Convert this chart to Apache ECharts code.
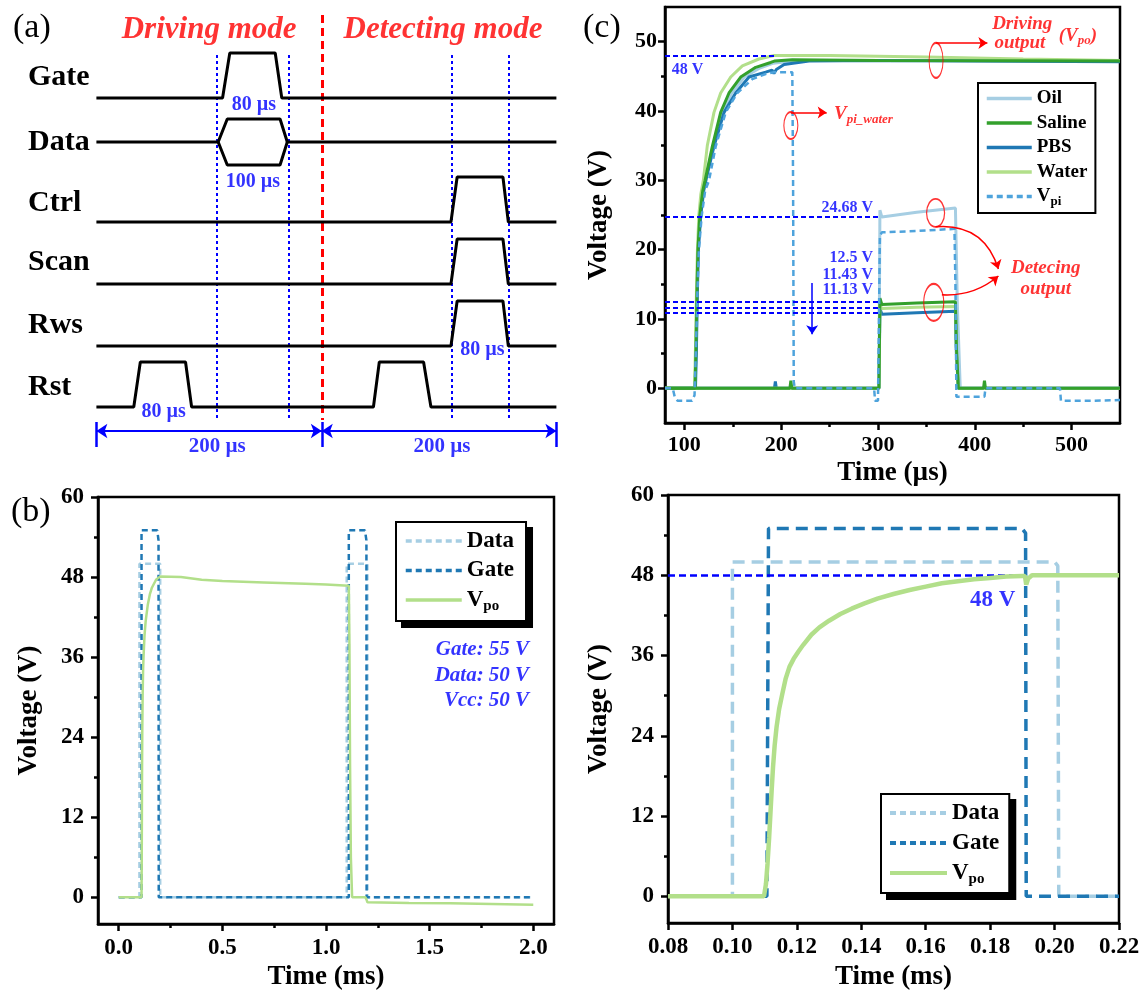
<!DOCTYPE html>
<html><head><meta charset="utf-8">
<script src="https://cdn.jsdelivr.net/npm/echarts@6/dist/echarts.min.js"></script>
<style>html,body{margin:0;padding:0;background:#fff}#c{width:1146px;height:992px}</style>
</head><body><div id="c"></div>
<script>
// ================= DATA =================
// ---- Panel (a): timing diagram (times in µs) ----
const aSignals = ['Gate', 'Data', 'Ctrl', 'Scan', 'Rws', 'Rst'];
const aSpan = [0, 400];
const aModeBoundary = 196;
const aGatePulses = [[109.7, 116.0, 155.5, 161.2]];
const aDataWindows = [[105.9, 113.8, 159.7, 166.0]];
const aCtrlPulses = [[308.3, 313.7, 353.5, 358.2]];
const aScanPulses = [[308.3, 313.7, 353.5, 358.2]];
const aRwsPulses = [[308.3, 313.7, 353.5, 358.2]];
const aRstPulses = [[32.5, 38.2, 77.5, 82.8], [240.9, 246.0, 284.5, 290.9]];
const aGuideTimes = [105.0, 167.6, 309.0, 358.2];
const aWidthLabels = ['80 µs', '100 µs', '80 µs', '80 µs'];
const aPeriodLabels = ['200 µs', '200 µs'];
const aModes = ['Driving mode', 'Detecting mode'];

// ---- Panel (b): full period (ms, V) ----
const bLegend = ['Data', 'Gate', 'Vpo'];
const bXTicks = [0, 0.5, 1.0, 1.5, 2.0];
const bXMinor = [0.25, 0.75, 1.25, 1.75];
const bYTicks = [0, 12, 24, 36, 48, 60];
const bYMinor = [6, 18, 30, 42, 54];
const bData = [[0,0],[0.1,0],[0.1,50],[0.2,50],[0.2,0],[1.1,0],[1.1,50],[1.2,50],[1.2,0],[2.0,0]];
const bGate = [[0,0],[0.11,0],[0.11,55],[0.186,55],[0.192,53.5],[0.193,0],[1.11,0],[1.11,55],[1.188,55],[1.195,53.5],[1.196,0],[2.0,0]];
const bVpo = [[0,0],[0.11,0],[0.1109,4.9],[0.1118,12.4],[0.1126,19.3],[0.1137,25.3],[0.1155,30.3],[0.1177,34.3],[0.12,36.3],[0.1245,39.3],[0.13,41.4],[0.14,43.8],[0.15,45.4],[0.16,46.4],[0.18,47.6],[0.2,48.1],[0.3,48.0],[0.4,47.6],[0.5,47.4],[0.7,47.2],[0.9,47.0],[1.0,46.9],[1.11,46.7],[1.113,38],[1.116,20],[1.12,6],[1.126,0],[1.19,0],[1.195,-0.3],[1.2,-0.75],[1.4,-0.85],[1.6,-0.9],[1.8,-1.0],[2.0,-1.1]];
const bNotes = ['Gate: 55 V', 'Data: 50 V', 'Vcc: 50 V'];

// ---- Panel (c): media comparison (µs, V) ----
const cLegend = ['Oil', 'Saline', 'PBS', 'Water', 'Vpi'];
const cXTicks = [100, 200, 300, 400, 500];
const cXMinor = [150, 250, 350, 450];
const cYTicks = [0, 10, 20, 30, 40, 50];
const cYMinor = [5, 15, 25, 35, 45];
const cOilDrive = [[80,0],[111.2,0],[112.2,6],[113.2,14],[114.2,20],[116.5,25],[119.5,28.5],[122,30],[129.5,34.9],[139,39.8],[149,42.6],[162,44.9],[178,46.2],[192,46.9],[215,47.3],[300,47.3],[550,47.2]];
const cSalineDrive = [[80,0],[111,0],[112,6],[113,14],[114,20],[116,25],[119,28.5],[121.4,30],[128.9,34.9],[137.5,39.8],[146.1,42.6],[158.2,44.9],[173.7,46.3],[189.2,47.0],[191,46.8],[193,47.2],[211.5,47.4],[300,47.3],[550,47.2]];
const cPbsDrive = [[80,0],[111.5,0],[112.5,6],[113.5,14],[114.5,20],[117,25],[120,28.5],[123,30.5],[130.6,34.9],[141,39.8],[153,42.6],[166.8,44.9],[184,45.6],[190.5,45.9],[192.5,45.4],[195,46],[203,46.7],[228.8,47.2],[300,47.3],[550,47.1]];
const cWaterDrive = [[80,0],[110.5,0],[111.5,6],[112.5,14],[113.5,20],[115,25],[117,28],[119.6,30],[123.7,35],[130.6,39.8],[137.5,42.6],[147.9,44.9],[159.9,46.5],[177,47.5],[192.6,48],[250,48],[350,47.8],[450,47.5],[550,47.3]];
const cOilDetect = [[80,0],[301,0],[302,25.7],[304,24.7],[340,25.4],[380,26],[382,12],[385,0],[550,0]];
const cSalineDetect = [[80,0],[209,0],[210,1.1],[211,0],[301,0],[302,13],[304,12.1],[340,12.3],[380,12.5],[381,6],[383,0],[409,0],[410,1.1],[411,0],[550,0]];
const cPbsDetect = [[80,0],[193,0],[194,1],[195,0],[301,0],[302,11.5],[304,10.7],[340,10.9],[380,11.1],[381,5],[383,0],[550,0]];
const cWaterDetect = [[80,0],[301,0],[302,12],[304,11.5],[340,11.7],[380,11.8],[381,6],[383,0],[550,0]];
const cVpi = [[80,0],[88,0],[90,-1.2],[93,-1.8],[108,-1.8],[110.5,-1],[112,6],[113.5,14],[115,20],[118,25],[121.5,28.5],[125.5,30],[132.4,34.9],[142.7,39.8],[154.7,42.6],[170.2,44.6],[185,45.4],[192.6,45.6],[211.5,45.6],[212.3,30],[213,1],[214,0],[296,0],[297,-1.8],[300,-1.8],[301,10],[302,22],[304,22.5],[340,22.7],[379,23],[380,15],[381,-1.2],[410,-1.2],[411,0],[488,0],[489,-1.8],[520,-1.8],[550,-1.7]];
const cRefLevels = [48, 24.68, 12.43, 11.6, 10.84];
const cRefEnds = [193, 302, 301, 301, 301];
const cRefLabels = ['48 V', '24.68 V', '12.5 V', '11.43 V', '11.13 V'];

// ---- Panel (d): zoom on driving pulse (ms, V) ----
const dXTicks = [0.08, 0.10, 0.12, 0.14, 0.16, 0.18, 0.20, 0.22];
const dYTicks = [0, 12, 24, 36, 48, 60];
const dYMinor = [6, 18, 30, 42, 54];
const dData = [[0.08,0],[0.1,0],[0.1,50],[0.2,50],[0.201,49.4],[0.2013,0],[0.22,0]];
const dGate = [[0.08,0],[0.1107,0],[0.1112,55],[0.1899,55],[0.191,54.3],[0.1912,0],[0.22,0]];
const dVpo = [[0.08,0],[0.1098,0],[0.1104,1.8],[0.1109,4.9],[0.1114,8.8],[0.1118,12.4],[0.1122,16.0],[0.1126,19.3],[0.1131,22.5],[0.1137,25.3],[0.1145,28.0],[0.1155,30.3],[0.1165,32.5],[0.1177,34.3],[0.119,35.5],[0.1205,36.6],[0.122,37.6],[0.1245,39.1],[0.127,40.2],[0.13,41.2],[0.1335,42.2],[0.137,43.0],[0.141,43.8],[0.145,44.5],[0.15,45.2],[0.155,45.8],[0.16,46.3],[0.165,46.8],[0.17,47.1],[0.175,47.4],[0.18,47.6],[0.185,47.8],[0.19,47.9],[0.1908,47.9],[0.1912,46.6],[0.1918,47.5],[0.193,48],[0.22,48]];
const dRefLevel = 48;
const dRefEnd = 0.191;
const dRefLabel = '48 V';

// ================= BUILD =================
const FONT = '"Liberation Serif","Times New Roman",Times,serif';
const BLUE = '#0000ff', RED = '#ff0000';
const cLightBlue = '#a6cee3', cDarkBlue = '#1f78b4', cLightGreen = '#b2df8a', cGreen = '#33a02c', cVpiBlue = '#4ea3dc';

function axisPair(dim, gi, min, max, major, minor, fmt, name, nameGap, margin, fs) {
  const pos = dim === 'x' ? 'bottom' : 'left';
  const main = {
    type: 'value', gridIndex: gi, min: min, max: max, position: pos,
    name: name, nameLocation: 'middle', nameGap: nameGap,
    nameTextStyle: { fontFamily: FONT, fontWeight: 'bold', fontSize: 27, color: '#000' },
    axisLine: { show: true, onZero: false, lineStyle: { color: '#000', width: 2.5 } },
    axisTick: { show: true, inside: false, length: 7, customValues: major, lineStyle: { color: '#000', width: 2.5 } },
    axisLabel: { show: true, customValues: major, margin: margin, formatter: fmt || (v => String(v)),
      fontFamily: FONT, fontWeight: 'bold', fontSize: fs, color: '#000' },
    splitLine: { show: false }
  };
  const mn = {
    type: 'value', gridIndex: gi, min: min, max: max, position: pos,
    axisLine: { show: false, onZero: false },
    axisTick: { show: minor.length > 0, inside: false, length: 4, customValues: minor, lineStyle: { color: '#000', width: 2.5 } },
    axisLabel: { show: false }, splitLine: { show: false }
  };
  return [main, mn];
}

function line(name, ax, data, color, width, type, z) {
  return { type: 'line', name: name, xAxisIndex: ax[0], yAxisIndex: ax[1], data: data,
    symbol: 'none', showSymbol: false, silent: true, animation: false, z: z || 2,
    lineStyle: { color: color, width: width, type: type || 'solid' }, itemStyle: { color: color } };
}
function segs(ax, list, color, width, type, symbols, symbolSize, curveness, z) {
  return { type: 'lines', coordinateSystem: 'cartesian2d', xAxisIndex: ax[0], yAxisIndex: ax[1],
    data: list.map(c => ({ coords: c })), symbol: symbols || ['none', 'none'], symbolSize: symbolSize || 10,
    lineStyle: { color: color, width: width, type: type || 'solid', curveness: curveness || 0, opacity: 1 },
    silent: true, animation: false, z: z || 3 };
}
function texts(ax, items, label) {
  return { type: 'scatter', xAxisIndex: ax[0], yAxisIndex: ax[1], symbolSize: 1, clip: false,
    itemStyle: { color: 'rgba(0,0,0,0)' }, silent: true, animation: false, z: 10,
    data: items.map(it => ({ value: it.v, text: it.t, label: it.l || {} })),
    label: Object.assign({ show: true, position: 'inside', formatter: p => p.data.text }, label) };
}
function ellipses(ax, items) {
  return { type: 'scatter', xAxisIndex: ax[0], yAxisIndex: ax[1], symbol: 'circle', silent: true, animation: false, z: 9,
    data: items.map(it => ({ value: it.v, symbolSize: it.s })),
    itemStyle: { color: 'rgba(0,0,0,0)', borderColor: RED, borderWidth: 1.5 } };
}

const A = [0, 0], C = [1, 1], B = [3, 3], D = [5, 5];
const series = [];

// ---- (a) ----
const rowBase = { Gate: 98, Data: 142, Ctrl: 222, Scan: 284, Rws: 346, Rst: 407 };
const pulseAmp = 45, dataHalf = 23;
function train(pulses, base, amp) {
  const pts = [[aSpan[0], base]];
  pulses.forEach(p => { pts.push([p[0], base], [p[1], base - amp], [p[2], base - amp], [p[3], base]); });
  pts.push([aSpan[1], base]);
  return pts;
}
series.push(segs(A, aGuideTimes.map(t => [[t, 55], [t, 420]]), BLUE, 2, [3, 3], null, null, 0, 1));
series.push(segs(A, [[[aModeBoundary, 15], [aModeBoundary, 420]]], RED, 3, [8, 5], null, null, 0, 1));
series.push(line('', A, train(aGatePulses, rowBase.Gate, pulseAmp), '#000', 3));
series.push(line('', A, train(aDataWindows, rowBase.Data, dataHalf), '#000', 3));
aDataWindows.forEach(p => series.push(line('', A, [[p[0], rowBase.Data], [p[1], rowBase.Data + dataHalf], [p[2], rowBase.Data + dataHalf], [p[3], rowBase.Data]], '#000', 3)));
series.push(line('', A, train(aCtrlPulses, rowBase.Ctrl, pulseAmp), '#000', 3));
series.push(line('', A, train(aScanPulses, rowBase.Scan, pulseAmp), '#000', 3));
series.push(line('', A, train(aRwsPulses, rowBase.Rws, pulseAmp), '#000', 3));
series.push(line('', A, train(aRstPulses, rowBase.Rst, pulseAmp), '#000', 3));
series.push(segs(A, [[[aSpan[0], 431], [aModeBoundary, 431]], [[aModeBoundary, 431], [aSpan[1], 431]]], BLUE, 2, 'solid', ['arrow', 'arrow'], 11, 0, 4));
series.push(segs(A, [aSpan[0], aModeBoundary, aSpan[1]].map(t => [[t, 422], [t, 447]]), BLUE, 2.5, 'solid', null, null, 0, 4));
const blueLbl = { color: BLUE, fontFamily: FONT, fontWeight: 'bold', fontSize: 20 };
series.push(texts(A, [
  { v: [137, 105], t: aWidthLabels[0] }, { v: [136, 182], t: aWidthLabels[1] },
  { v: [335.7, 350], t: aWidthLabels[2] }, { v: [58.4, 412], t: aWidthLabels[3] },
  { v: [105, 447], t: aPeriodLabels[0], l: { fontSize: 21 } }, { v: [300.5, 447], t: aPeriodLabels[1], l: { fontSize: 21 } }
], blueLbl));
series.push(texts(A, [{ v: [98, 30], t: aModes[0] }, { v: [301.4, 30], t: aModes[1] }],
  { color: RED, fontFamily: FONT, fontWeight: 'bold', fontStyle: 'italic', fontSize: 31 }));

// ---- (b) ----
series.push(line('Data', B, bData, cLightBlue, 2.5, [6, 4]));
series.push(line('Gate', B, bGate, cDarkBlue, 2.5, [6, 4]));
series.push(line('Vpo', B, bVpo, cLightGreen, 2.5));
series.push(texts(B, bNotes.map((t, i) => ({ v: [1.98, [37.2, 33.2, 29.5][i]], t: t })),
  { color: BLUE, fontFamily: FONT, fontWeight: 'bold', fontStyle: 'italic', fontSize: 21, align: 'right' }));

// ---- (c) ----
series.push(line('Oil', C, cOilDrive, cLightBlue, 3));
series.push(line('Oil', C, cOilDetect, cLightBlue, 3));
series.push(line('PBS', C, cPbsDrive, cDarkBlue, 3));
series.push(line('PBS', C, cPbsDetect, cDarkBlue, 3));
series.push(line('Water', C, cWaterDrive, cLightGreen, 3));
series.push(line('Water', C, cWaterDetect, cLightGreen, 3));
series.push(line('Saline', C, cSalineDrive, cGreen, 3));
series.push(line('Saline', C, cSalineDetect, cGreen, 3));
series.push(line('Vpi', C, cVpi, cVpiBlue, 2.5, [6, 4]));
series.push(segs(C, cRefLevels.map((v, i) => [[80, v], [cRefEnds[i], v]]), BLUE, 2, [5, 3], null, null, 0, 5));
series.push(segs(C, [[[232, 15.2], [232, 7.8]]], BLUE, 1.5, 'solid', ['none', 'arrow'], 9, 0, 5));
series.push(texts(C, [
  { v: [87, 46], t: cRefLabels[0], l: { align: 'left' } },
  { v: [295, 26], t: cRefLabels[1] }, { v: [295, 18.8], t: cRefLabels[2] },
  { v: [295, 16.4], t: cRefLabels[3] }, { v: [295, 14.2], t: cRefLabels[4] }
], { color: BLUE, fontFamily: FONT, fontWeight: 'bold', fontSize: 16, align: 'right' }));
series.push(ellipses(C, [
  { v: [360, 47.3], s: [14, 35] }, { v: [210, 37.9], s: [14, 27] },
  { v: [359.5, 25.3], s: [18, 28] }, { v: [357.6, 12.4], s: [20, 37] }
]));
series.push(segs(C, [[[360, 49.8], [413, 49.8]], [[210, 39.8], [247, 39.8]]], RED, 1.5, 'solid', ['none', 'arrow'], 9, 0, 9));
series.push(segs(C, [[[359.5, 23.3], [424.4, 17.2]]], RED, 1.5, 'solid', ['none', 'arrow'], 9, 0.4, 9));
series.push(segs(C, [[[366, 13.5], [424.4, 16.2]]], RED, 1.5, 'solid', ['none', 'arrow'], 9, -0.2, 9));
const redRich = {
  i: { color: RED, fontFamily: FONT, fontWeight: 'bold', fontStyle: 'italic', fontSize: 19 },
  s: { color: RED, fontFamily: FONT, fontWeight: 'bold', fontStyle: 'italic', fontSize: 13, padding: [10, 0, 0, 0] }
};
series.push(texts(C, [
  { v: [449, 52.5], t: '{i|Driving}' }, { v: [446.6, 49.8], t: '{i|output}' },
  { v: [506.5, 50.8], t: '{i|(V}{s|po}{i|)}' },
  { v: [254.6, 39.5], t: '{i|V}{s|pi_water}', l: { align: 'left' } },
  { v: [473.3, 17.4], t: '{i|Detecing}' }, { v: [473.3, 14.3], t: '{i|output}' }
], { rich: redRich }));

// ---- (d) ----
series.push(line('Data', D, dData, cLightBlue, 3.5, [12, 7]));
series.push(line('Gate', D, dGate, cDarkBlue, 3.5, [12, 7]));
series.push(segs(D, [[[0.08, dRefLevel], [dRefEnd, dRefLevel]]], BLUE, 2.5, [7, 4], null, null, 0, 3));
series.push(line('Vpo', D, dVpo, cLightGreen, 4.5, 'solid', 4));
series.push(texts(D, [{ v: [0.1808, 44.3], t: dRefLabel }],
  { color: BLUE, fontFamily: FONT, fontWeight: 'bold', fontSize: 23 }));

// ---- legends ----
function legendRich(fs, sub, color) {
  return {
    b: { fontFamily: FONT, fontWeight: 'bold', fontSize: fs, color: color },
    s: { fontFamily: FONT, fontWeight: 'bold', fontSize: sub, color: color, padding: [Math.round(fs * 0.55), 0, 0, 0] }
  };
}
function legendFmt(name) {
  if (name === 'Vpo') return '{b|V}{s|po}';
  if (name === 'Vpi') return '{b|V}{s|pi}';
  return '{b|' + name + '}';
}
function legend(data, left, top, fs, sub, iw, gap, pad, lh, lw, ghost) {
  return { data: data, left: left, top: top, orient: 'vertical', itemWidth: iw, itemHeight: 14, itemGap: gap,
    padding: pad, borderColor: '#000', borderWidth: 2, backgroundColor: ghost ? '#000' : '#fff', selectedMode: false,
    z: ghost ? 3 : 6,
    itemStyle: { color: 'rgba(0,0,0,0)', borderWidth: 0, opacity: 0 },
    lineStyle: { width: lw, opacity: ghost ? 0 : 1 },
    formatter: legendFmt,
    textStyle: { lineHeight: lh, rich: legendRich(fs, sub, ghost ? 'rgba(0,0,0,0)' : '#000') } };
}
const SH = 6;

const xAxis = [{ type: 'value', gridIndex: 0, min: aSpan[0], max: aSpan[1], show: false }]
  .concat(axisPair('x', 1, 80, 550, cXTicks, cXMinor, null, 'Time (µs)', 37, 11, 22))
  .concat(axisPair('x', 2, -0.1, 2.1, bXTicks, bXMinor, v => v.toFixed(1), 'Time (ms)', 40, 13, 23))
  .concat(axisPair('x', 3, 0.08, 0.22, dXTicks, [], v => v.toFixed(2), 'Time (ms)', 41, 13, 23));
const yAxis = [{ type: 'value', gridIndex: 0, min: 0, max: 460, inverse: true, show: false }]
  .concat(axisPair('y', 1, -5, 55, cYTicks, cYMinor, null, 'Voltage (V)', 52, 8, 22))
  .concat(axisPair('y', 2, -4, 60, bYTicks, bYMinor, null, 'Voltage (V)', 55, 14, 23))
  .concat(axisPair('y', 3, -4, 60, dYTicks, dYMinor, null, 'Voltage (V)', 55, 14, 23));

const frame = { show: true, borderColor: '#000', borderWidth: 2.5, backgroundColor: 'rgba(0,0,0,0)' };
const option = {
  backgroundColor: '#fff', animation: false,
  textStyle: { fontFamily: FONT },
  grid: [
    { left: 96.4, top: 0, width: 460, height: 460, show: false },
    Object.assign({ left: 665, top: 7, width: 455, height: 416 }, frame),
    Object.assign({ left: 98, top: 497, width: 456, height: 428 }, frame),
    Object.assign({ left: 668, top: 495, width: 451, height: 428 }, frame)
  ],
  xAxis: xAxis, yAxis: yAxis,
  legend: [
    legend(cLegend, 978, 83, 19, 13, 45, 3.5, [5, 8, 5, 7], 21, 3.5, false),
    legend(bLegend, 396 + SH, 522 + SH, 23, 15, 56, 3.5, [6, 12, 7, 8], 26, 3.5, true),
    legend(bLegend, 396, 522, 23, 15, 56, 3.5, [6, 12, 7, 8], 26, 3.5, false),
    legend(bLegend, 881 + SH, 794 + SH, 23, 15, 57, 4, [6, 10, 6, 7], 26, 4, true),
    legend(bLegend, 881, 794, 23, 15, 57, 4, [6, 10, 6, 7], 26, 4, false)
  ],
  graphic: [
    { type: 'text', x: 13, y: 28, style: { text: '(a)', font: '34px ' + FONT, fill: '#000', verticalAlign: 'middle', textVerticalAlign: 'middle' } },
    { type: 'text', x: 11, y: 512, style: { text: '(b)', font: '34px ' + FONT, fill: '#000', verticalAlign: 'middle', textVerticalAlign: 'middle' } },
    { type: 'text', x: 583, y: 28, style: { text: '(c)', font: '34px ' + FONT, fill: '#000', verticalAlign: 'middle', textVerticalAlign: 'middle' } }
  ].concat(aSignals.map((s, i) => ({
    type: 'text', x: 28, y: [77, 142, 203, 262, 325, 387][i],
    style: { text: s, font: 'bold 30px ' + FONT, fill: '#000', verticalAlign: 'middle', textVerticalAlign: 'middle' }
  }))),
  series: series
};
const chart = echarts.init(document.getElementById('c'), null, { renderer: 'canvas', width: 1146, height: 992 });
chart.setOption(option);
</script></body></html>
